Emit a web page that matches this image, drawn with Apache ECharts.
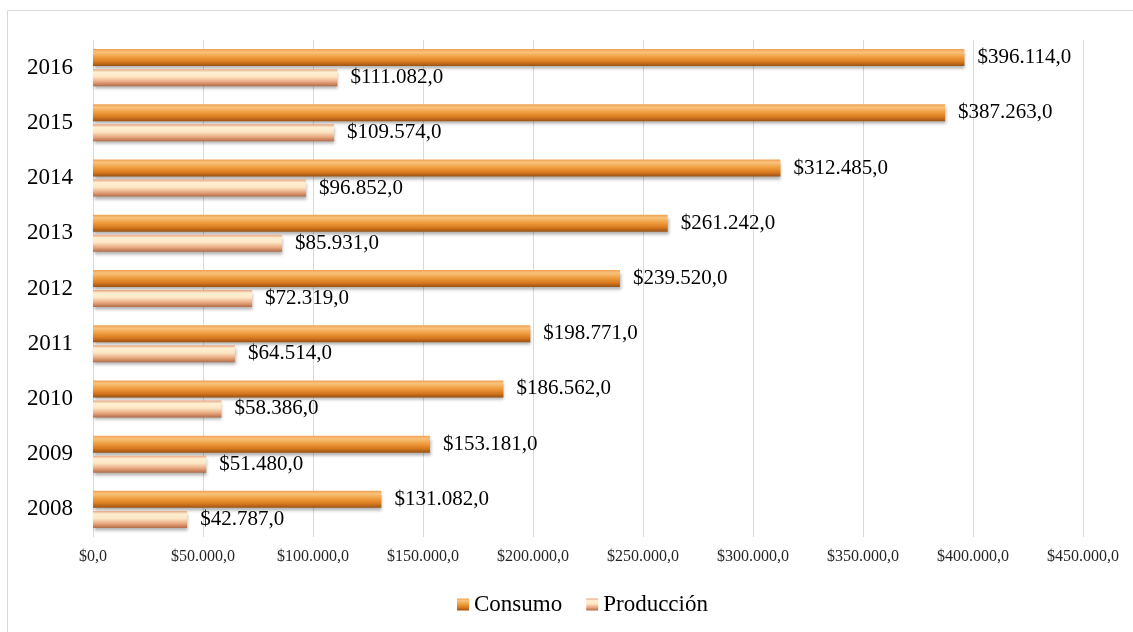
<!DOCTYPE html>
<html>
<head>
<meta charset="utf-8">
<script src="https://cdn.jsdelivr.net/npm/echarts@6/dist/echarts.min.js"></script>
<style>
html,body{margin:0;padding:0;background:#fff;}
#chart{width:1133px;height:632px;}
</style>
</head>
<body>
<div id="chart"></div>
<script>
const years = ['2008','2009','2010','2011','2012','2013','2014','2015','2016'];
const consumo = [131082, 153181, 186562, 198771, 239520, 261242, 312485, 387263, 396114];
const produccion = [42787, 51480, 58386, 64514, 72319, 85931, 96852, 109574, 111082];
const xTicks = [0, 50000, 100000, 150000, 200000, 250000, 300000, 350000, 400000, 450000];

function fmt(v) {
  const s = Math.round(v).toString().replace(/\B(?=(\d{3})+(?!\d))/g, '.');
  return '$' + s + ',0';
}
const serif = '"Liberation Serif","DejaVu Serif",serif';

const consumoColor = new echarts.graphic.LinearGradient(0, 0, 0, 1, [
  {offset: 0, color: '#f0a050'},
  {offset: 0.18, color: '#f9c27c'},
  {offset: 0.45, color: '#f0a042'},
  {offset: 0.75, color: '#d97a1f'},
  {offset: 1, color: '#9a5214'}
]);
const produccionColor = new echarts.graphic.LinearGradient(0, 0, 0, 1, [
  {offset: 0, color: '#e6a27c'},
  {offset: 0.18, color: '#fff0d2'},
  {offset: 0.45, color: '#fce6c4'},
  {offset: 0.75, color: '#e8a67e'},
  {offset: 1, color: '#b06c48'}
]);

const chart = echarts.init(document.getElementById('chart'));
chart.setOption({
  animation: false,
  graphic: [{
    type: 'rect',
    shape: {x: 7.5, y: 10.5, width: 1140, height: 640},
    style: {fill: 'none', stroke: '#d9d9d9', lineWidth: 1},
    silent: true
  }],
  grid: {left: 93, right: 50, top: 40, bottom: 95, containLabel: false},
  legend: {
    top: 588,
    left: 452,
    itemWidth: 12,
    itemHeight: 12,
    itemGap: 24,
    icon: 'rect',
    data: ['Consumo', 'Producción'],
    textStyle: {fontFamily: serif, fontSize: 23, color: '#000'}
  },
  xAxis: {
    type: 'value',
    min: 0,
    max: 450000,
    interval: 50000,
    axisLine: {show: false},
    axisTick: {show: false},
    splitLine: {lineStyle: {color: '#d9d9d9'}},
    axisLabel: {
      fontFamily: serif, fontSize: 16, color: '#262626', margin: 12,
      formatter: v => xTicks.includes(v) ? fmt(v) : ''
    }
  },
  yAxis: {
    type: 'category',
    data: years,
    axisLine: {show: true, lineStyle: {color: '#d9d9d9'}},
    axisTick: {show: false},
    axisLabel: {fontFamily: serif, fontSize: 23, color: '#000', margin: 20}
  },
  series: [
    {
      name: 'Consumo',
      type: 'bar',
      data: consumo,
      barWidth: 17,
      barGap: '18%',
      itemStyle: {color: consumoColor, shadowColor: 'rgba(0,0,0,0.3)', shadowBlur: 3, shadowOffsetY: 3, shadowOffsetX: 1},
      label: {show: true, position: 'right', distance: 13, fontFamily: serif, fontSize: 21, color: '#000', formatter: p => fmt(p.value)}
    },
    {
      name: 'Producción',
      type: 'bar',
      data: produccion,
      barWidth: 17,
      itemStyle: {color: produccionColor, shadowColor: 'rgba(0,0,0,0.3)', shadowBlur: 3, shadowOffsetY: 3, shadowOffsetX: 1},
      label: {show: true, position: 'right', distance: 13, fontFamily: serif, fontSize: 21, color: '#000', formatter: p => fmt(p.value)}
    }
  ]
});
</script>
</body>
</html>
